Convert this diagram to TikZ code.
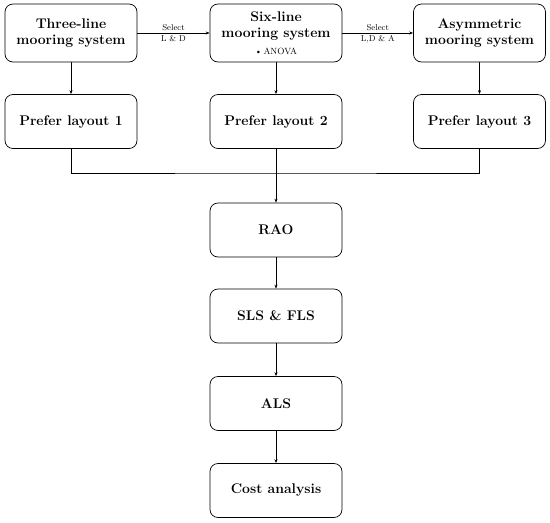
\documentclass[tikz,border=0pt]{standalone}
\usetikzlibrary{arrows.meta}
\begin{document}
\begin{tikzpicture}[x=1pt,y=-1pt,
  box/.style={draw, line width=0.7pt, rounded corners=8pt, align=center,
    minimum width=132pt, inner sep=0pt, font=\fontsize{14}{16.5}\selectfont\bfseries},
  toprow/.style={box, minimum height=58pt},
  lowrow/.style={box, minimum height=54pt},
  conn/.style={line width=0.6pt},
  arr/.style={conn, -{Stealth[length=4pt,width=3pt]}},
  lbl/.style={font=\fontsize{8.5}{9}\selectfont, inner sep=0pt}]
\useasboundingbox (0,0) rectangle (550,523);
\node[toprow] (t1) at (71,33) {Three-line\\mooring system};
\node[toprow] (t2) at (276,33) {Six-line\\mooring system\\[0pt]{\fontsize{9}{9}\selectfont\mdseries\textbullet\,ANOVA}};
\node[toprow] (t3) at (479.5,33) {Asymmetric\\mooring system};
\node[lowrow] (p1) at (71,121.5) {Prefer layout 1};
\node[lowrow] (p2) at (276,121.5) {Prefer layout 2};
\node[lowrow] (p3) at (479.5,121.5) {Prefer layout 3};
\node[lowrow] (rao) at (276,230) {RAO};
\node[lowrow] (sls) at (276,316) {SLS \& FLS};
\node[lowrow] (als) at (276,403.5) {ALS};
\node[lowrow] (cost) at (276,490.5) {Cost analysis};
\coordinate (jn) at (276,173);
\draw[arr] (t1) -- node[lbl, above=2pt] {Select} node[lbl, below=2pt] {L \& D} (t2);
\draw[arr] (t2) -- node[lbl, above=2pt] {Select} node[lbl, below=2pt] {L,D \& A} (t3);
\draw[arr] (t1) -- (p1);
\draw[arr] (t2) -- (p2);
\draw[arr] (t3) -- (p3);
\draw[conn] (p1.south) |- (jn) -| (p3.south);
\draw[arr] (p2) -- (rao);
\draw[arr] (rao) -- (sls);
\draw[arr] (sls) -- (als);
\draw[arr] (als) -- (cost);
\end{tikzpicture}
\end{document}
